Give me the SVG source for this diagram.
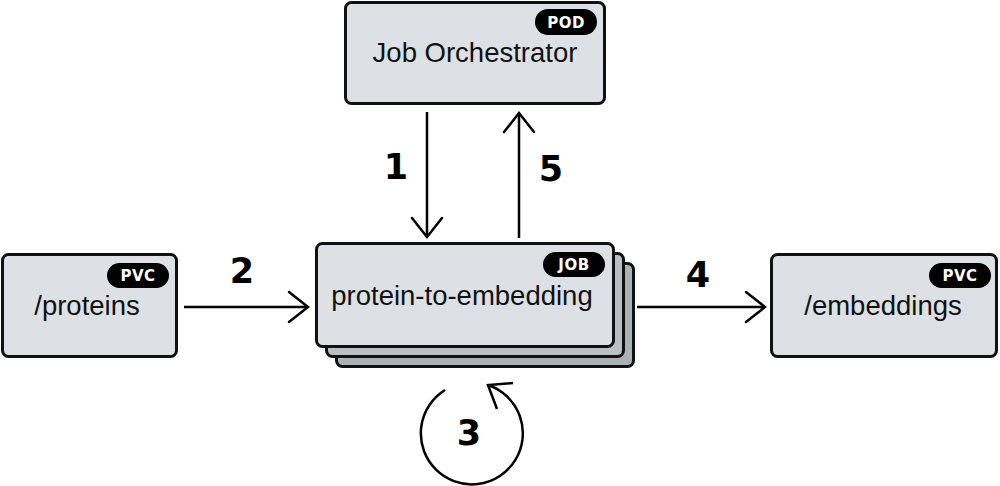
<svg xmlns="http://www.w3.org/2000/svg" width="1000" height="486" viewBox="0 0 1000 486">
<defs>
<marker id="chev" markerUnits="userSpaceOnUse" viewBox="-24 -20 28 40" markerWidth="28" markerHeight="40" refX="0" refY="0" orient="auto">
<path d="M-19,-15 L0,0 L-19,15" fill="none" stroke="#000" stroke-width="2.5" stroke-linecap="round" stroke-linejoin="miter"/>
</marker>
<style>
.box{fill:#dde1e6;stroke:#111;stroke-width:3}
.back1{fill:#b9bfc3;stroke:#111;stroke-width:3}
.back2{fill:#abb2b6;stroke:#111;stroke-width:3}
.pill{fill:#000}
.ptxt{font-family:"DejaVu Sans","Liberation Sans",sans-serif;font-weight:bold;font-size:15px;fill:#fff;text-anchor:middle;letter-spacing:0.5px}
.lbl{font-family:"Liberation Sans",Arial,sans-serif;font-size:27.5px;fill:#111;text-anchor:middle}
.num{font-family:"DejaVu Sans","Liberation Sans",sans-serif;font-weight:bold;font-size:35px;fill:#000;text-anchor:middle}
.edge{fill:none;stroke:#000;stroke-width:2.5}
</style>
</defs>
<g id="orchestrator">
<rect class="box" x="345.5" y="2.5" width="259" height="101" rx="6"/>
<rect class="pill" x="535" y="9" width="62" height="26" rx="13"/>
<text class="ptxt" x="566" y="27.5">POD</text>
<text class="lbl" x="475" y="62">Job Orchestrator</text>
</g>
<g id="job">
<rect class="back2" x="336.5" y="263.5" width="297" height="103" rx="6"/>
<rect class="back1" x="326.5" y="253.5" width="297" height="103" rx="6"/>
<rect class="box" x="316.5" y="243.5" width="297" height="103" rx="6"/>
<rect class="pill" x="543" y="252" width="62" height="25" rx="12.5"/>
<text class="ptxt" x="574" y="270">JOB</text>
<text class="lbl" x="462" y="305">protein-to-embedding</text>
</g>
<g id="proteins">
<rect class="box" x="2.5" y="254.5" width="174" height="102" rx="6"/>
<rect class="pill" x="107" y="263" width="62" height="25" rx="12.5"/>
<text class="ptxt" x="138" y="281">PVC</text>
<text class="lbl" x="87" y="315">/proteins</text>
</g>
<g id="embeddings">
<rect class="box" x="771.5" y="254.5" width="225" height="102" rx="6"/>
<rect class="pill" x="929" y="263" width="62" height="25" rx="12.5"/>
<text class="ptxt" x="960" y="281">PVC</text>
<text class="lbl" x="883" y="315">/embeddings</text>
</g>
<g id="connectors">
<line class="edge" x1="427" y1="112" x2="427" y2="237" marker-end="url(#chev)"/>
<line class="edge" x1="519" y1="238" x2="519" y2="113" marker-end="url(#chev)"/>
<line class="edge" x1="184" y1="307" x2="308" y2="307" marker-end="url(#chev)"/>
<line class="edge" x1="637" y1="307" x2="765" y2="307" marker-end="url(#chev)"/>
<path class="edge" d="M445,390 A51,51 0 1 0 488,385"/>
<path class="edge" d="M513,383 L488,385 L497,409" stroke-linejoin="miter"/>
<text class="num" x="396" y="179">1</text>
<text class="num" x="551" y="181">5</text>
<text class="num" x="242" y="283">2</text>
<text class="num" x="698" y="287">4</text>
<text class="num" x="469" y="445">3</text>
</g>
</svg>
